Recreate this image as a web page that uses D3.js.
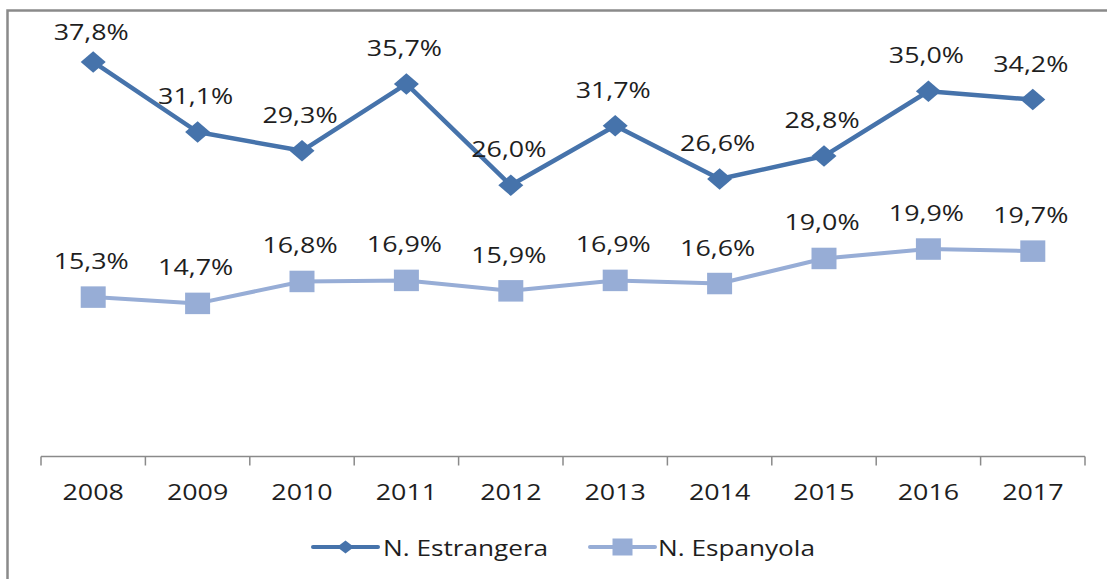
<!DOCTYPE html>
<html><head><meta charset="utf-8">
<script src="https://cdn.jsdelivr.net/npm/d3@7"></script>
<style>
html,body{margin:0;padding:0;background:#fff;}
svg{display:block;}
text{font-family:"Open Sans",sans-serif;fill:#1e1e1e;}
</style></head>
<body>
<svg id="chart" width="1107" height="579"></svg>
<script>
const years = ["2008","2009","2010","2011","2012","2013","2014","2015","2016","2017"];
const estrangera = [37.8,31.1,29.3,35.7,26.0,31.7,26.6,28.8,35.0,34.2];
const espanyola = [15.3,14.7,16.8,16.9,15.9,16.9,16.6,19.0,19.9,19.7];
const seriesNames = ["N. Estrangera","N. Espanyola"];
const yDomain = [0,40];

const svg = d3.select("#chart");
const W = 1107, H = 579;
const SX = 1.22; // horizontal text stretch
const dark = "#4673AB", light = "#97ADD6";

// border (left + top)
svg.append("path").attr("d","M7.5,579 V10.5 H1107").attr("fill","none")
  .attr("stroke","#8a8a8a").attr("stroke-width",2.5);

const x = d3.scaleBand().domain(years).range([41,1085]).padding(0);
const y = d3.scaleLinear().domain(yDomain).range([457,39]);
const cx = d => x(d) + x.bandwidth()/2;

// x axis
const axisY = 456.5;
const g = svg.append("g");
g.append("line").attr("x1",41).attr("x2",1085).attr("y1",axisY).attr("y2",axisY)
  .attr("stroke","#8a8a8a").attr("stroke-width",1.5);
const bounds = years.map(d=>x(d)).concat([x(years[years.length-1])+x.bandwidth()]);
g.selectAll("line.tick").data(bounds).join("line").attr("class","tick")
  .attr("x1",d=>d).attr("x2",d=>d).attr("y1",axisY).attr("y2",axisY+9)
  .attr("stroke","#8a8a8a").attr("stroke-width",1.5);
g.selectAll("text.lab").data(years).join("text").attr("class","lab")
  .attr("transform",d=>`translate(${cx(d)},499.5) scale(${SX},1)`)
  .attr("text-anchor","middle").attr("font-size",22).text(d=>d);

const fmt = v => v.toFixed(1).replace(".",",") + "%";
const diamond = (w,h) => `M0,${-h/2} L${w/2},0 L0,${h/2} L${-w/2},0 Z`;

function drawSeries(vals, color, lw, marker){
  const pts = years.map((yr,i)=>[cx(yr), y(vals[i])]);
  svg.append("path").attr("d", d3.line()(pts)).attr("fill","none")
    .attr("stroke",color).attr("stroke-width",lw).attr("stroke-linejoin","round");
  svg.append("g").selectAll("path").data(pts).join("path")
    .attr("transform",d=>`translate(${d[0]},${d[1]})`)
    .attr("d", marker).attr("fill",color);
  svg.append("g").selectAll("text").data(pts).join("text")
    .attr("transform",(d,i)=>`translate(${d[0]-2},${Math.max(d[1]-28,40)}) scale(${SX},1)`)
    .attr("text-anchor","middle").attr("font-size",22).text((d,i)=>fmt(vals[i]));
}
drawSeries(espanyola, light, 4, "M-12.5,-10.75 H12.5 V10.75 H-12.5 Z");
drawSeries(estrangera, dark, 4.5, diamond(25,21.5));

// legend
const leg = [
  {name:seriesNames[0], color:dark, x0:313, x1:378, marker:diamond(17,13), tx:383},
  {name:seriesNames[1], color:light, x0:590, x1:655, marker:"M-10,-8.5 H10 V8.5 H-10 Z", tx:658}
];
const ly = 547;
leg.forEach(l=>{
  svg.append("line").attr("x1",l.x0).attr("x2",l.x1).attr("y1",ly).attr("y2",ly)
    .attr("stroke",l.color).attr("stroke-width",4).attr("stroke-linecap","round");
  svg.append("path").attr("transform",`translate(${(l.x0+l.x1)/2},${ly})`).attr("d",l.marker).attr("fill",l.color);
  svg.append("text").attr("transform",`translate(${l.tx},556) scale(1.19,1)`)
    .attr("font-size",22).text(l.name);
});
</script>
</body></html>
